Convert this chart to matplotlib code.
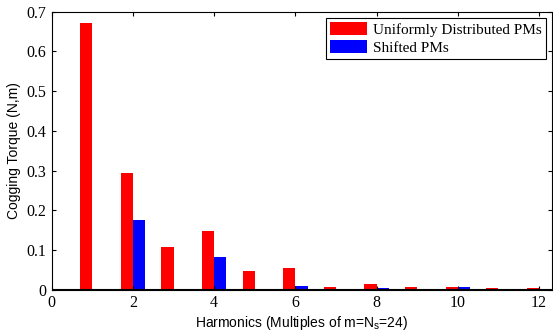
import matplotlib
matplotlib.use("Agg")
import matplotlib.pyplot as plt
import numpy as np

harmonics = [1, 2, 3, 4, 5, 6, 7, 8, 9, 10, 11, 12]
uniform_pms = [0.672, 0.295, 0.108, 0.149, 0.047, 0.055, 0.007, 0.014, 0.007, 0.007, 0.005, 0.003]
shifted_pms = [0.001, 0.175, 0.001, 0.082, 0.001, 0.010, 0.001, 0.005, 0.001, 0.007, 0.001, 0.001]
series_labels = ["Uniformly Distributed PMs", "Shifted PMs"]
xticks = [0, 2, 4, 6, 8, 10, 12]
yticks = [0, 0.1, 0.2, 0.3, 0.4, 0.5, 0.6, 0.7]

fig = plt.figure(figsize=(5.53, 3.31), dpi=100)
ax = fig.add_axes([0.0935, 0.1248, 0.9055, 0.84])

x = np.array(harmonics, dtype=float)
w = 0.3
ax.bar(x - w / 2, uniform_pms, width=w, color="#ff0000", edgecolor="none", label=series_labels[0])
ax.bar(x + w / 2, shifted_pms, width=w, color="#0000ff", edgecolor="none", label=series_labels[1])
ax.axhline(0, color="black", lw=1.5, zorder=3)

ax.set_xlim(0, 12.33)
ax.set_ylim(0, 0.7)
ax.set_xticks(xticks)
ax.set_yticks(yticks)
ax.set_yticklabels([("%g" % v) for v in yticks])
ax.tick_params(direction="in", top=True, right=True, length=3, width=0.8, pad=4)
for lab in ax.get_xticklabels() + ax.get_yticklabels():
    lab.set_fontfamily("Liberation Serif")
    lab.set_fontsize(11.5)
for s in ax.spines.values():
    s.set_linewidth(0.8)

ax.set_xlabel("Harmonics (Multiples of m=N$_{\\mathregular{s}}$=24)", family="Liberation Sans", fontsize=10, labelpad=2)
ax.set_ylabel("Cogging Torque (N,m)", family="Liberation Sans", fontsize=10, labelpad=4)

leg = ax.legend(loc="upper right", prop={"family": "Liberation Serif", "size": 11},
                fancybox=False, framealpha=1, edgecolor="black", handlelength=2.4,
                handleheight=0.9, borderpad=0.3, labelspacing=0.2, handletextpad=0.4,
                borderaxespad=0.4)
leg.get_frame().set_linewidth(0.8)

fig.savefig("out.png", dpi=100)
